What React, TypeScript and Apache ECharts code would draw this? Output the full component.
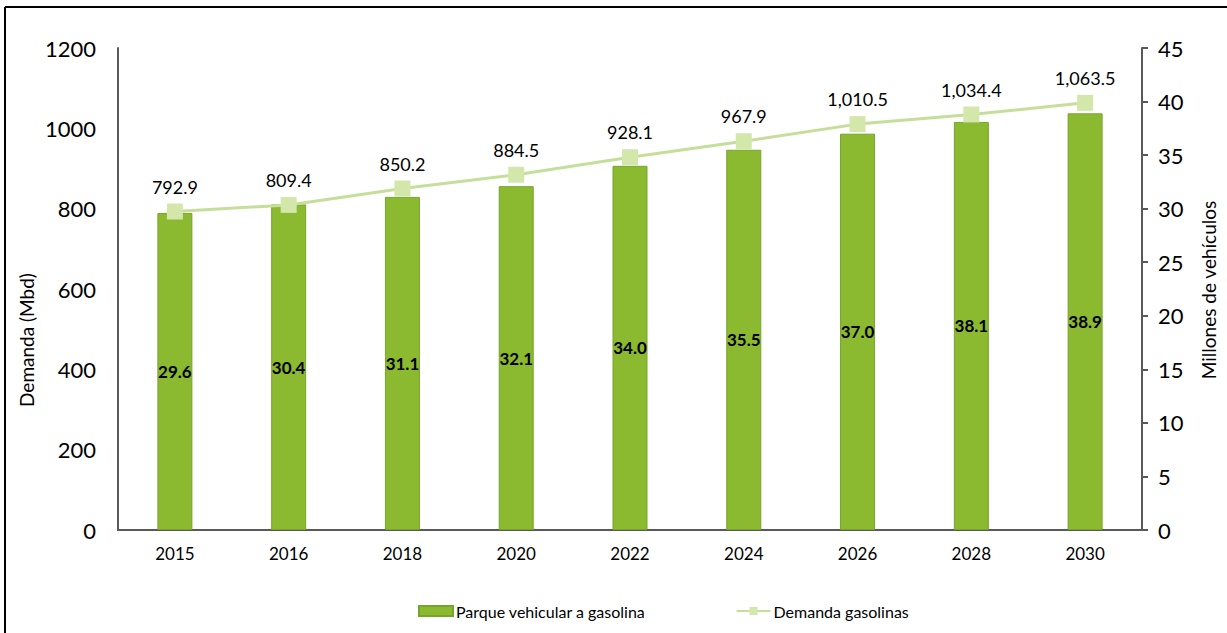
import React, { useEffect, useRef } from "react";
import * as echarts from "echarts";

const categories = ["2015", "2016", "2018", "2020", "2022", "2024", "2026", "2028", "2030"];
const vehicles = [29.6, 30.4, 31.1, 32.1, 34.0, 35.5, 37.0, 38.1, 38.9];
const demand = [792.9, 809.4, 850.2, 884.5, 928.1, 967.9, 1010.5, 1034.4, 1063.5];
const leftTicks = { min: 0, max: 1200, interval: 200 };
const rightTicks = { min: 0, max: 45, interval: 5 };

const FONT = "Lato, 'Open Sans', sans-serif";

export default function App() {
  const ref = useRef<HTMLDivElement>(null);
  useEffect(() => {
    if (!ref.current) return;
    const chart = echarts.init(ref.current, undefined, { renderer: "svg" });
    chart.setOption({
      animation: false,
      backgroundColor: "#ffffff",
      textStyle: { fontFamily: FONT },
      grid: { left: 118, right: 85, top: 48, bottom: 103 },
      legend: {
        left: 413,
        top: 598,
        itemWidth: 34,
        itemHeight: 10,
        itemGap: 90,
        textStyle: { fontSize: 16, color: "#000", fontFamily: FONT, padding: [0, 0, 0, -2] },
        data: [
          { name: "Parque vehicular a gasolina", icon: "rect" },
          { name: "Demanda gasolinas" },
        ],
      },
      xAxis: {
        type: "category",
        data: categories,
        axisLine: { lineStyle: { color: "#595959", width: 2 } },
        axisTick: { show: false },
        axisLabel: { fontSize: 17, color: "#000", margin: 15 },
      },
      yAxis: [
        {
          type: "value",
          position: "left",
          ...leftTicks,
          axisLine: { show: true, lineStyle: { color: "#595959", width: 2 } },
          axisTick: { show: false },
          splitLine: { show: false },
          axisLabel: { fontSize: 22, color: "#000", margin: 22, formatter: (v: number) => String(v) },
        },
        {
          type: "value",
          position: "right",
          ...rightTicks,
          axisLine: { show: true, lineStyle: { color: "#595959", width: 2 } },
          axisTick: { show: true, length: 6, lineStyle: { color: "#595959", width: 2 } },
          splitLine: { show: false },
          axisLabel: { fontSize: 22, color: "#000", margin: 16 },
        },
      ],
      series: [
        {
          name: "Parque vehicular a gasolina",
          type: "bar",
          yAxisIndex: 1,
          data: vehicles,
          barWidth: 35,
          itemStyle: { color: "#8bb92f", borderColor: "#76a52a", borderWidth: 1 },
          label: {
            show: true,
            position: "inside",
            fontSize: 17,
            fontWeight: "bold",
            color: "#000",
            formatter: (p: any) => Number(p.value).toFixed(1),
          },
        },
        {
          name: "Demanda gasolinas",
          type: "line",
          yAxisIndex: 0,
          data: demand,
          symbol: "rect",
          symbolSize: 16,
          lineStyle: { color: "#c5df9b", width: 3 },
          itemStyle: { color: "#d3e7ab" },
          label: {
            show: true,
            position: "top",
            distance: 8,
            fontSize: 18,
            color: "#000",
            formatter: (p: any) =>
              Number(p.value).toLocaleString("en-US", { minimumFractionDigits: 1, maximumFractionDigits: 1 }),
          },
        },
      ],
      graphic: [
        { type: "line", shape: { x1: 5, y1: 7, x2: 1227, y2: 7 }, style: { stroke: "#000", lineWidth: 2 } },
        { type: "line", shape: { x1: 5, y1: 7, x2: 5, y2: 633 }, style: { stroke: "#000", lineWidth: 2 } },
        {
          type: "text",
          x: 26,
          y: 340,
          rotation: Math.PI / 2,
          style: {
            text: "Demanda (Mbd)",
            fontSize: 19,
            fontFamily: FONT,
            fill: "#000",
            align: "center",
            verticalAlign: "middle",
          },
        },
        {
          type: "text",
          x: 1208,
          y: 290,
          rotation: Math.PI / 2,
          style: {
            text: "Millones de vehículos",
            fontSize: 19,
            fontFamily: FONT,
            fill: "#000",
            align: "center",
            verticalAlign: "middle",
          },
        },
      ],
    });
    return () => chart.dispose();
  }, []);
  return (
    <div
      ref={ref}
      style={{ position: "fixed", left: 0, top: 0, width: 1227, height: 633, background: "#fff" }}
    />
  );
}
